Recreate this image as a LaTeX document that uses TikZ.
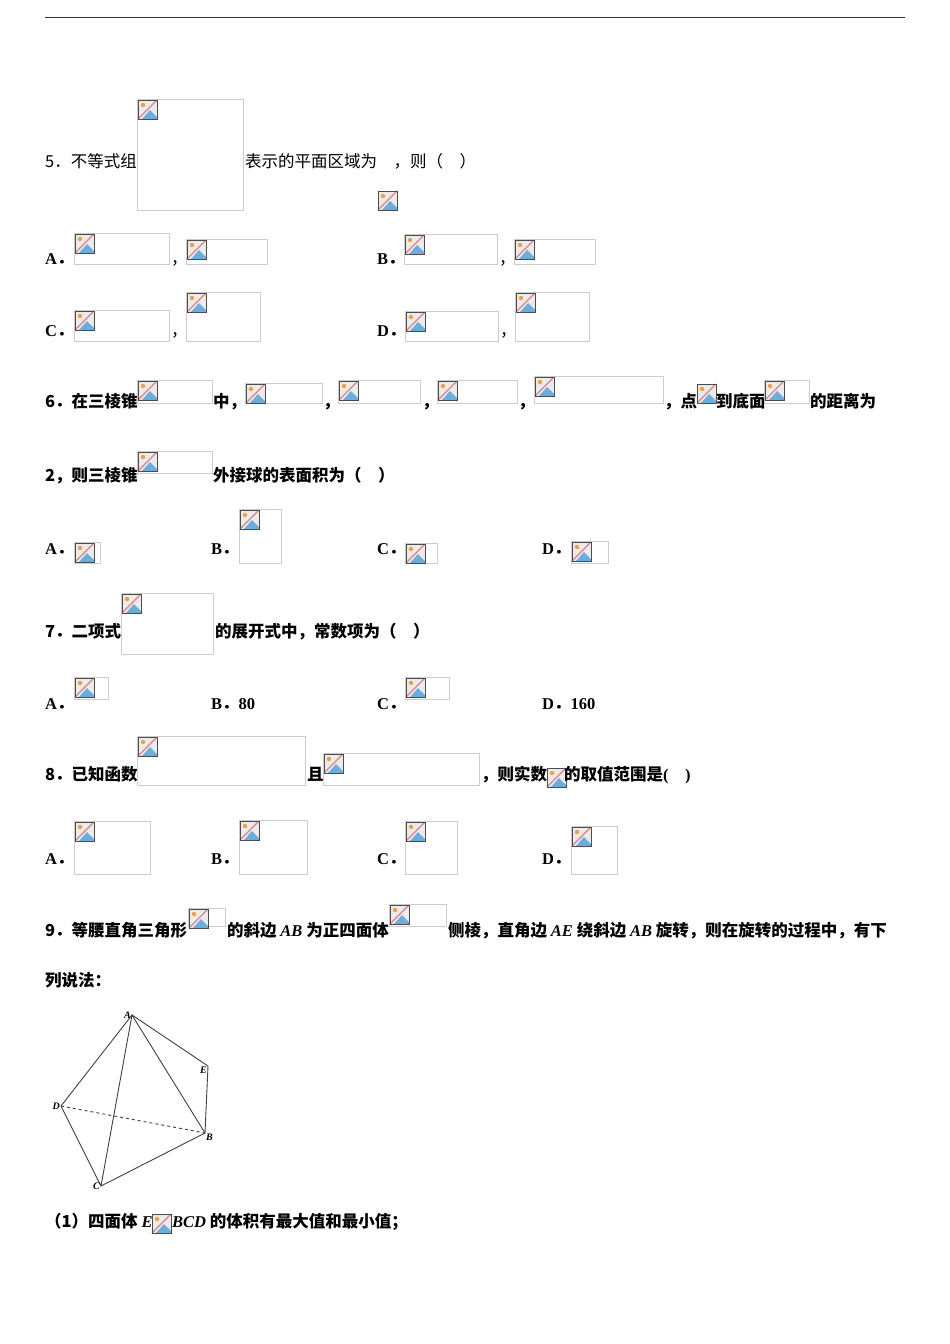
\documentclass[tikz,border=0pt]{standalone}
\usepackage{fontspec}
\setmainfont{Liberation Serif}
\newfontfamily\cjk{Noto Sans CJK SC}
\definecolor{icb}{HTML}{6AAEE0}
\definecolor{icr}{HTML}{E08080}
\definecolor{ico}{HTML}{F0A040}
\tikzset{txt/.style={anchor=base west,inner sep=0pt,font=\cjk\fontsize{16.5}{19}\selectfont},
 phbox/.style={draw=black!20,line width=0.8pt},
 edge/.style={draw=black!75,line width=0.9pt}}
\newcommand{\icon}[2]{%
 \fill[white!92!black] (#1,#2) rectangle ++(19,19);
 \fill[icb] (#1+4,#2+19) -- (#1+12,#2+10) -- (#1+19,#2+17) -- (#1+19,#2+19) -- cycle;
 \fill[ico] (#1+5,#2+5) circle (2.2);
 \draw[icr,line width=1.2pt] (#1,#2+19) -- (#1+19,#2);
 \draw[black!70,line width=0.8pt] (#1,#2) rectangle ++(19,19);}
\newcommand{\ph}[4]{\draw[phbox] (#1,#2) rectangle (#3,#4); \icon{#1+1}{#2+1}}
\newcommand{\lab}[1]{{\rmfamily\bfseries #1}}
\newcommand{\opt}[1]{{\rmfamily\bfseries #1}{\cjk\bfseries ．}}
\begin{document}
\begin{tikzpicture}[x=1pt,y=-1pt]
\useasboundingbox (0,0) rectangle (950,1344);
\draw[black!80,line width=1pt] (45,17) -- (905,17);
% Q5
\node[txt] (q5a) at (45,167) {5．不等式组};
\ph{137}{99}{243}{210}
\node[txt] (q5b) at (245,167) {表示的平面区域为\quad ，则（\quad ）};
\icon{378}{191}
\node[txt] at (45,264) {\opt{A}}; \ph{74}{233}{169}{264} \node[txt] at (171,264) {，}; \ph{186}{239}{267}{264}
\node[txt] at (377,264) {\opt{B}}; \ph{404}{234}{497}{264} \node[txt] at (499,264) {，}; \ph{514}{239}{595}{264}
\node[txt] at (45,336) {\opt{C}}; \ph{74}{310}{169}{341} \node[txt] at (171,336) {，}; \ph{186}{292}{260}{341}
\node[txt] at (377,336) {\opt{D}}; \ph{405}{311}{498}{341} \node[txt] at (500,336) {，}; \ph{515}{292}{589}{341}
\tikzset{txt/.append style={font=\cjk\bfseries\fontsize{16.5}{19}\selectfont}}
% Q6
\node[txt] at (45,407) {6．在三棱锥}; \ph{137}{380}{212}{403}
\node[txt] at (213,407) {中，}; \ph{245}{383}{322}{403}
\node[txt] at (323,407) {，}; \ph{338}{380}{420}{403}
\node[txt] at (422,407) {，}; \ph{437}{380}{517}{403}
\node[txt] at (518,407) {，}; \ph{534}{376}{663}{403}
\node[txt] at (664,407) {，点}; \icon{697}{384}
\node[txt] at (716,407) {到底面}; \ph{764}{380}{809}{403}
\node[txt] at (810,407) {的距离为};
\node[txt] at (45,481) {2，则三棱锥}; \ph{137}{451}{212}{473}
\node[txt] at (213,481) {外接球的表面积为（\quad ）};
\node[txt] at (45,554) {\opt{A}}; \ph{74}{542}{100}{563}
\node[txt] at (211,554) {\opt{B}}; \ph{239}{509}{281}{563}
\node[txt] at (377,554) {\opt{C}}; \ph{405}{543}{437}{563}
\node[txt] at (542,554) {\opt{D}}; \ph{571}{541}{608}{563}
% Q7
\node[txt] at (45,637) {7．二项式}; \ph{121}{593}{213}{654}
\node[txt] at (215,637) {的展开式中，常数项为（\quad ）};
\node[txt] at (45,709) {\opt{A}}; \ph{74}{677}{108}{699}
\node[txt] at (211,709) {\opt{B}\lab{80}};
\node[txt] at (377,709) {\opt{C}}; \ph{405}{677}{449}{699}
\node[txt] at (542,709) {\opt{D}\lab{160}};
% Q8
\node[txt] at (45,780) {8．已知函数}; \ph{137}{736}{305}{785}
\node[txt] at (307,780) {且}; \ph{323}{753}{479}{785}
\node[txt] at (481,780) {，则实数}; \icon{547}{768}
\node[txt] at (564,780) {的取值范围是\lab{(\quad )}};
\node[txt] at (45,864) {\opt{A}}; \ph{74}{821}{150}{874}
\node[txt] at (211,864) {\opt{B}}; \ph{239}{820}{307}{874}
\node[txt] at (377,864) {\opt{C}}; \ph{405}{821}{457}{874}
\node[txt] at (542,864) {\opt{D}}; \ph{571}{826}{617}{874}
% Q9
\node[txt] at (45,936) {9．等腰直角三角形}; \ph{188}{908}{225}{926}
\node[txt] at (227,936) {的斜边 \lab{\itshape AB} 为正四面体}; \ph{389}{904}{446}{926}
\node[txt] at (448,936) {侧棱，直角边 \lab{\itshape AE} 绕斜边 \lab{\itshape AB} 旋转，则在旋转的过程中，有下};
\node[txt] at (45,986) {列说法：};
% figure
\coordinate (A) at (132,1015); \coordinate (E) at (208,1066); \coordinate (D) at (61,1106);
\coordinate (B) at (205,1133); \coordinate (C) at (101,1186);
\draw[edge] (A) -- (D) -- (C) -- (B) -- (A) -- (C);
\draw[edge] (A) -- (E) -- (B);
\draw[edge,dashed] (D) -- (B);
\tikzset{pl/.style={font=\rmfamily\bfseries\itshape\fontsize{10}{12}\selectfont,inner sep=1pt}}
\node[pl,left] at (A) {A}; \node[pl,below left] at (E) {E}; \node[pl,left] at (D) {D};
\node[pl,below right] at (B) {B}; \node[pl,left] at (C) {C};
\node[txt] at (45,1227) {（1）四面体 \lab{\itshape E}}; \icon{152}{1214}
\node[txt] at (172,1227) {\lab{\itshape BCD} 的体积有最大值和最小值；};
\end{tikzpicture}
\end{document}
